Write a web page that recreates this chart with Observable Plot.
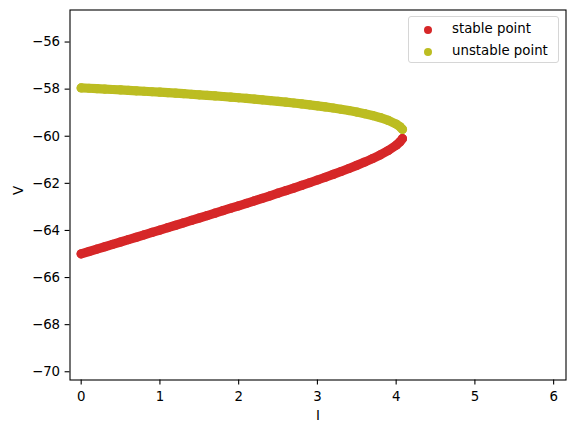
<!DOCTYPE html>
<html>
<head>
<meta charset="utf-8">
<script src="https://cdn.jsdelivr.net/npm/d3@7"></script>
<script src="https://cdn.jsdelivr.net/npm/@observablehq/plot@0.6"></script>
<style>
  html, body { margin: 0; padding: 0; background: #fff; }
  #wrap { position: relative; width: 574px; height: 432px; font-family: "DejaVu Sans", sans-serif; }
  #legend { position: absolute; left: 408px; top: 16px; width: 149px; height: 45px;
            border: 1px solid #d6d6d6; border-radius: 3px; background: rgba(255,255,255,0.8); }
  .entry { position: absolute; left: 0; height: 16px; width: 149px; font-size: 13.33px; color: #000; }
  .entry .dot { position: absolute; left: 15px; top: 4px; width: 8px; height: 8px; border-radius: 50%; }
  .entry .lab { position: absolute; left: 43px; top: -1px; line-height: 16px; white-space: nowrap; }
</style>
</head>
<body>
<div id="wrap"></div>
<script>
const currents = [0, 0.1, 0.2, 0.3, 0.4, 0.5, 0.6, 0.7, 0.8, 0.9,
  1.0, 1.1, 1.2, 1.3, 1.4, 1.5, 1.6, 1.7, 1.8, 1.9,
  2.0, 2.1, 2.2, 2.3, 2.4, 2.5, 2.6, 2.7, 2.8, 2.9,
  3.0, 3.1, 3.2, 3.3, 3.4, 3.5, 3.6, 3.7, 3.8, 3.9,
  4.0, 4.05, 4.08];
const vStable = [-64.994, -64.893, -64.793, -64.692, -64.591, -64.490, -64.389, -64.288, -64.186, -64.085,
  -63.983, -63.881, -63.779, -63.677, -63.575, -63.472, -63.369, -63.265, -63.162, -63.057,
  -62.953, -62.848, -62.742, -62.635, -62.528, -62.419, -62.310, -62.200, -62.088, -61.974,
  -61.859, -61.741, -61.621, -61.498, -61.370, -61.237, -61.098, -60.950, -60.789, -60.606,
  -60.383, -60.233, -60.104];
const vUnstable = [-57.947, -57.963, -57.980, -57.998, -58.015, -58.033, -58.052, -58.071, -58.090, -58.110,
  -58.130, -58.151, -58.172, -58.194, -58.217, -58.240, -58.264, -58.288, -58.313, -58.340,
  -58.367, -58.395, -58.424, -58.454, -58.485, -58.518, -58.552, -58.588, -58.626, -58.666,
  -58.709, -58.754, -58.802, -58.854, -58.911, -58.973, -59.042, -59.121, -59.213, -59.328,
  -59.484, -59.600, -59.708];
const seriesNames = ["stable point", "unstable point"];
const seriesColors = ["#d62728", "#bcbd22"];
const xTicks = [0, 1, 2, 3, 4, 5, 6];
const yTicks = [-70, -68, -66, -64, -62, -60, -58, -56];
const xLabel = "I";
const yLabel = "V";

const stable = currents.map((I, i) => ({I, V: vStable[i]}));
const unstable = currents.map((I, i) => ({I, V: vUnstable[i]}));

const chart = Plot.plot({
  width: 574,
  height: 432,
  marginLeft: 69.5,
  marginRight: 8.5,
  marginTop: 9.5,
  marginBottom: 52.5,
  style: { fontFamily: "DejaVu Sans, sans-serif", fontSize: "13.33px", color: "#000", background: "#fff" },
  x: { domain: [-0.142, 6.157] },
  y: { domain: [-70.35, -54.64] },
  marks: [
    Plot.line(stable, { x: "I", y: "V", stroke: seriesColors[0], strokeWidth: 9.2, strokeLinecap: "round", strokeLinejoin: "round" }),
    Plot.dot(stable, { x: "I", y: "V", r: 4.6, fill: seriesColors[0], stroke: "none" }),
    Plot.line(unstable, { x: "I", y: "V", stroke: seriesColors[1], strokeWidth: 9.2, strokeLinecap: "round", strokeLinejoin: "round" }),
    Plot.dot(unstable, { x: "I", y: "V", r: 4.6, fill: seriesColors[1], stroke: "none" }),
    Plot.frame({ stroke: "#000", strokeWidth: 1.1 }),
    Plot.axisX({ ticks: xTicks, tickFormat: d3.format("d"), tickSize: 4.9, tickPadding: 7, label: null, fontSize: 13.33, stroke: "#000", strokeWidth: 1.1 }),
    Plot.axisY({ ticks: yTicks, tickFormat: d3.format("d"), tickSize: 4.9, tickPadding: 5, label: null, fontSize: 13.33, stroke: "#000", strokeWidth: 1.1 }),
    Plot.text([xLabel], { text: d => d, frameAnchor: "bottom", dy: 40, fontSize: 13.33, fill: "#000" }),
    Plot.text([yLabel], { text: d => d, frameAnchor: "left", dx: -51, rotate: -90, fontSize: 13.33, fill: "#000" })
  ]
});

const wrap = document.getElementById("wrap");
wrap.appendChild(chart);

const legend = document.createElement("div");
legend.id = "legend";
seriesNames.forEach((name, i) => {
  const e = document.createElement("div");
  e.className = "entry";
  e.style.top = (5 + i * 21.7) + "px";
  const d = document.createElement("span");
  d.className = "dot";
  d.style.background = seriesColors[i];
  const t = document.createElement("span");
  t.className = "lab";
  t.textContent = name;
  e.appendChild(d);
  e.appendChild(t);
  legend.appendChild(e);
});
wrap.appendChild(legend);
</script>
</body>
</html>
